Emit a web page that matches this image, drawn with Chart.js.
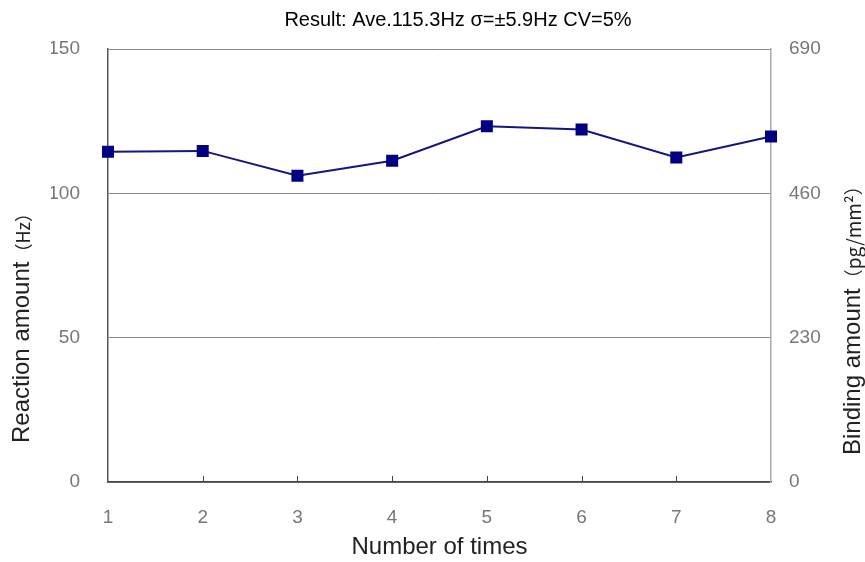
<!DOCTYPE html>
<html>
<head>
<meta charset="utf-8">
<script src="https://cdn.jsdelivr.net/npm/chart.js@4/dist/chart.umd.min.js"></script>
<style>
  html, body { margin: 0; padding: 0; background: #fff; }
  #wrap { width: 865px; height: 562px; }
</style>
</head>
<body>
<div id="wrap"><canvas id="myCanvas"></canvas></div>
<script>
const runs = ["1", "2", "3", "4", "5", "6", "7", "8"];
const reactionHz = [114.4, 114.7, 106.1, 111.3, 123.2, 122.1, 112.4, 119.7];
const leftTicks = [0, 50, 100, 150];
const rightTicks = [0, 230, 460, 690];

const titleText = "Result: Ave.115.3Hz σ=±5.9Hz CV=5%";
const leftTitle = ["Reaction amount", "（Hz）"];
const rightTitle = ["Binding amount", "（pg/mm²）"];
const xTitle = "Number of times";

const FONT = "'Liberation Sans', Arial, sans-serif";

// small tick marks inside the plot on the x axis + rotated y titles
const extras = {
  id: "extras",
  afterDraw(chart) {
    const ctx = chart.ctx;
    const area = chart.chartArea;
    const xs = chart.scales.x;
    ctx.save();
    ctx.strokeStyle = "#444";
    ctx.lineWidth = 1;
    xs.ticks.forEach((t, i) => {
      if (i === 0 || i === xs.ticks.length - 1) return;
      const px = Math.round(xs.getPixelForTick(i)) + 0.5;
      ctx.beginPath();
      ctx.moveTo(px, area.bottom);
      ctx.lineTo(px, area.bottom - 6);
      ctx.stroke();
    });

    const drawTitle = (parts, x, y, small) => {
      ctx.save();
      ctx.translate(x, y);
      ctx.rotate(-Math.PI / 2);
      ctx.fillStyle = "#222";
      ctx.textBaseline = "middle";
      ctx.textAlign = "left";
      ctx.font = "24px " + FONT;
      ctx.fillText(parts[0], 0, 0);
      const w = ctx.measureText(parts[0]).width;
      ctx.font = small + "px 'Noto Sans CJK JP', " + FONT;
      ctx.fillText(parts[1], w, 1);
      ctx.restore();
    };
    drawTitle(leftTitle, 22, area.bottom - 39, 18);
    drawTitle(rightTitle, 853, area.bottom - 27, 19);
    ctx.restore();
  }
};

new Chart(document.getElementById("myCanvas"), {
  type: "line",
  data: {
    labels: runs,
    datasets: [{
      label: "Reaction amount",
      data: reactionHz,
      yAxisID: "y",
      borderColor: "#15157f",
      backgroundColor: "#000080",
      borderWidth: 2,
      pointStyle: "rect",
      pointRadius: 8.5,
      pointBorderWidth: 0,
      pointBackgroundColor: "#000080",
      tension: 0
    }]
  },
  options: {
    responsive: true,
    maintainAspectRatio: false,
    animation: false,
    layout: { padding: { left: 51, right: 0, top: 0, bottom: 0 } },
    plugins: {
      legend: { display: false },
      tooltip: { enabled: false },
      title: {
        display: true,
        text: titleText,
        color: "#000",
        font: { family: FONT, size: 20, weight: "normal" },
        padding: { top: 8, bottom: 17 }
      }
    },
    scales: {
      x: {
        type: "category",
        offset: false,
        grid: { display: true, drawOnChartArea: false, drawTicks: false },
        border: { display: true, color: "#444", width: 1.5 },
        ticks: {
          color: "#777",
          padding: 24,
          maxRotation: 0,
          autoSkip: false,
          font: { family: FONT, size: 19 }
        },
        title: {
          display: true,
          text: xTitle,
          color: "#222",
          font: { family: FONT, size: 24 },
          padding: { top: 0, bottom: 0 }
        },
        afterFit(scale) { scale.height = 80; }
      },
      y: {
        position: "left",
        min: 0,
        max: 150,
        afterBuildTicks(scale) { scale.ticks = leftTicks.map(v => ({ value: v })); },
        grid: { color: "#888", lineWidth: 1, drawTicks: false },
        border: { display: true, color: "#555", width: 1.5 },
        ticks: {
          color: "#777",
          padding: 28,
          font: { family: FONT, size: 19 }
        },
        afterFit(scale) { scale.width = 57; }
      },
      y1: {
        position: "right",
        min: 0,
        max: 690,
        afterBuildTicks(scale) { scale.ticks = rightTicks.map(v => ({ value: v })); },
        grid: { drawOnChartArea: false, drawTicks: false },
        border: { display: true, color: "#aaa", width: 1.5 },
        ticks: {
          color: "#777",
          padding: 18,
          font: { family: FONT, size: 19 }
        },
        afterFit(scale) { scale.width = 94; }
      }
    }
  },
  plugins: [extras]
});
</script>
</body>
</html>
